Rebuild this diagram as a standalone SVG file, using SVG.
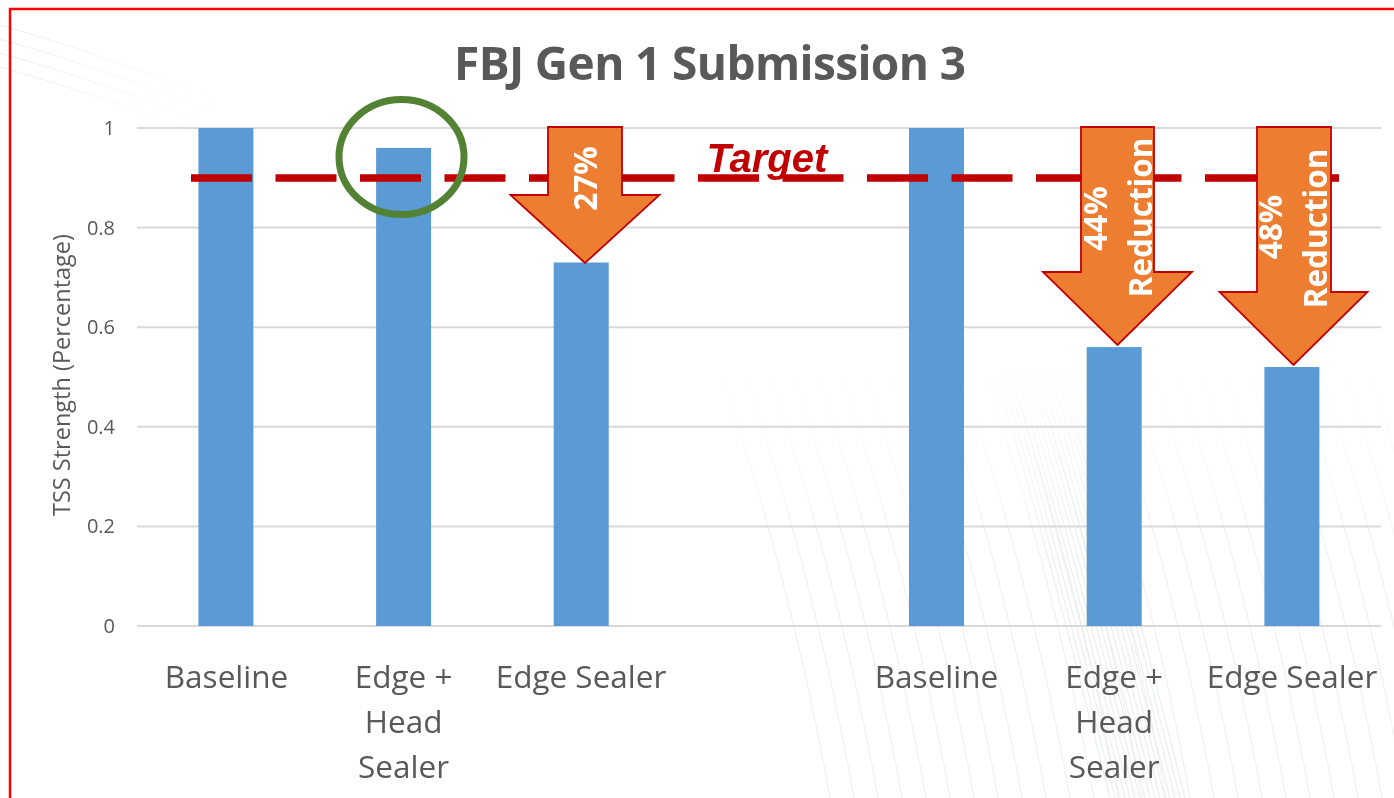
<svg xmlns="http://www.w3.org/2000/svg" xmlns:xlink="http://www.w3.org/1999/xlink" width="1394" height="798" viewBox="0 0 1394 798">
  <defs>
    <style>
      .grid { stroke: #D9D9D9; stroke-width: 2; fill: none; }
      .tick { font-family: "Open Sans", "Noto Sans", sans-serif; font-size: 20px; fill: #595959; text-anchor: end; }
      .cat { font-family: "Open Sans", "Noto Sans", sans-serif; font-size: 31.5px; fill: #595959; text-anchor: middle; }
      .bar { fill: #5B9BD5; }
      .arrow { fill: #ED7D31; stroke: #C00000; stroke-width: 1.8; stroke-linejoin: miter; }
      .alabel { font-family: "Open Sans", "Noto Sans", sans-serif; font-weight: bold; font-size: 31.5px; fill: #FFFFFF; text-anchor: middle; }
      .wave { fill: none; stroke: #D5DED5; stroke-width: 0.8; }
      .wave2 { fill: none; stroke: #C8D9C8; stroke-width: 0.8; }
    </style>
    <linearGradient id="fadeIn" x1="0" y1="0" x2="0" y2="1">
      <stop offset="0" stop-color="#000000"/>
      <stop offset="0.25" stop-color="#000000"/>
      <stop offset="0.6" stop-color="#FFFFFF"/>
      <stop offset="1" stop-color="#FFFFFF"/>
    </linearGradient>
    <linearGradient id="fadeTL" x1="0" y1="0" x2="1" y2="0">
      <stop offset="0" stop-color="#FFFFFF"/>
      <stop offset="1" stop-color="#000000"/>
    </linearGradient>
    <mask id="waveMask" maskUnits="userSpaceOnUse" x="600" y="200" width="800" height="600">
      <rect x="600" y="200" width="800" height="600" fill="url(#fadeIn)"/>
    </mask>
    <mask id="cornerMask" maskUnits="userSpaceOnUse" x="0" y="0" width="240" height="140">
      <rect x="0" y="0" width="240" height="140" fill="url(#fadeTL)"/>
    </mask>
    <path id="wa" d="M 680 260 C 750 440 800 630 830 798"/>
    <path id="wb" d="M 960 260 C 1020 440 1070 640 1110 798"/>
    <path id="wc" d="M -20 20 C 60 40 140 70 220 100"/>
  </defs>

  <rect width="1394" height="798" fill="#FFFFFF"/>

  <!-- faint background line work -->
  <g id="background" opacity="0.6">
    <g class="wave" mask="url(#waveMask)">
      <use xlink:href="#wa"/>
      <use xlink:href="#wa" transform="translate(24,0)"/>
      <use xlink:href="#wa" transform="translate(48,0)"/>
      <use xlink:href="#wa" transform="translate(72,0)"/>
      <use xlink:href="#wa" transform="translate(96,0)"/>
      <use xlink:href="#wa" transform="translate(120,0)"/>
      <use xlink:href="#wa" transform="translate(144,0)"/>
      <use xlink:href="#wa" transform="translate(168,0)"/>
      <use xlink:href="#wa" transform="translate(192,0)"/>
      <use xlink:href="#wa" transform="translate(216,0)"/>
      <use xlink:href="#wa" transform="translate(240,0)"/>
      <use xlink:href="#wa" transform="translate(264,0)"/>
      <use xlink:href="#wa" transform="translate(288,0)"/>
      <use xlink:href="#wa" transform="translate(312,0)"/>
      <use xlink:href="#wa" transform="translate(336,0)"/>
      <use xlink:href="#wa" transform="translate(360,0)"/>
      <use xlink:href="#wa" transform="translate(384,0)"/>
      <use xlink:href="#wa" transform="translate(408,0)"/>
      <use xlink:href="#wa" transform="translate(432,0)"/>
      <use xlink:href="#wa" transform="translate(456,0)"/>
      <use xlink:href="#wa" transform="translate(480,0)"/>
      <use xlink:href="#wa" transform="translate(504,0)"/>
      <use xlink:href="#wa" transform="translate(528,0)"/>
      <use xlink:href="#wa" transform="translate(552,0)"/>
      <use xlink:href="#wa" transform="translate(576,0)"/>
      <use xlink:href="#wa" transform="translate(600,0)"/>
      <use xlink:href="#wa" transform="translate(624,0)"/>
      <use xlink:href="#wa" transform="translate(648,0)"/>
    </g>
    <g class="wave2" mask="url(#waveMask)">
      <use xlink:href="#wb"/>
      <use xlink:href="#wb" transform="translate(5,0)"/>
      <use xlink:href="#wb" transform="translate(10,0)"/>
      <use xlink:href="#wb" transform="translate(15,0)"/>
      <use xlink:href="#wb" transform="translate(20,0)"/>
      <use xlink:href="#wb" transform="translate(25,0)"/>
      <use xlink:href="#wb" transform="translate(30,0)"/>
      <use xlink:href="#wb" transform="translate(35,0)"/>
      <use xlink:href="#wb" transform="translate(40,0)"/>
      <use xlink:href="#wb" transform="translate(45,0)"/>
      <use xlink:href="#wb" transform="translate(50,0)"/>
      <use xlink:href="#wb" transform="translate(55,0)"/>
      <use xlink:href="#wb" transform="translate(60,0)"/>
      <use xlink:href="#wb" transform="translate(65,0)"/>
      <use xlink:href="#wb" transform="translate(70,0)"/>
      <use xlink:href="#wb" transform="translate(75,0)"/>
    </g>
    <g class="wave" mask="url(#cornerMask)">
      <use xlink:href="#wc"/>
      <use xlink:href="#wc" transform="translate(0,14)"/>
      <use xlink:href="#wc" transform="translate(0,28)"/>
      <use xlink:href="#wc" transform="translate(0,42)"/>
    </g>
  </g>

  <!-- frame -->
  <rect x="10" y="9" width="1400" height="800" fill="none" stroke="#FF0000" stroke-width="2.5"/>

  <!-- title -->
  <text x="710" y="80" font-family="'Open Sans', 'Noto Sans', sans-serif" font-weight="bold" font-size="46" fill="#595959" text-anchor="middle" textLength="512">FBJ Gen 1 Submission 3</text>

  <!-- gridlines -->
  <g id="gridlines">
    <line class="grid" x1="137" y1="128" x2="1381" y2="128"/>
    <line class="grid" x1="137" y1="227.6" x2="1381" y2="227.6"/>
    <line class="grid" x1="137" y1="327.2" x2="1381" y2="327.2"/>
    <line class="grid" x1="137" y1="426.8" x2="1381" y2="426.8"/>
    <line class="grid" x1="137" y1="526.4" x2="1381" y2="526.4"/>
    <line class="grid" x1="137" y1="626" x2="1381" y2="626"/>
  </g>

  <!-- value axis -->
  <g id="y-axis">
    <text class="tick" x="115" y="135">1</text>
    <text class="tick" x="115" y="234.6">0.8</text>
    <text class="tick" x="115" y="334.2">0.6</text>
    <text class="tick" x="115" y="433.8">0.4</text>
    <text class="tick" x="115" y="533.4">0.2</text>
    <text class="tick" x="115" y="633">0</text>
    <text transform="translate(70,375) rotate(-90)" font-family="'Open Sans', 'Noto Sans', sans-serif" font-size="23.5" fill="#595959" text-anchor="middle">TSS Strength (Percentage)</text>
  </g>

  <!-- bars -->
  <g id="bars">
    <rect id="bar-baseline-1" class="bar" x="198.4" y="128" width="55" height="498"/>
    <rect id="bar-edge-head-1" class="bar" x="376.1" y="147.9" width="55" height="478.1"/>
    <rect id="bar-edge-sealer-1" class="bar" x="553.7" y="262.5" width="55" height="363.5"/>
    <rect id="bar-baseline-2" class="bar" x="909" y="128" width="55" height="498"/>
    <rect id="bar-edge-head-2" class="bar" x="1086.7" y="347.1" width="55" height="278.9"/>
    <rect id="bar-edge-sealer-2" class="bar" x="1264.4" y="367" width="55" height="259"/>
  </g>

  <!-- category labels -->
  <g id="categories">
    <text class="cat" x="226.5" y="688">Baseline</text>
    <text class="cat" x="403.6" y="688">Edge +</text>
    <text class="cat" x="403.6" y="733">Head</text>
    <text class="cat" x="403.6" y="778">Sealer</text>
    <text class="cat" x="581" y="688">Edge Sealer</text>
    <text class="cat" x="936.5" y="688">Baseline</text>
    <text class="cat" x="1114.2" y="688">Edge +</text>
    <text class="cat" x="1114.2" y="733">Head</text>
    <text class="cat" x="1114.2" y="778">Sealer</text>
    <text class="cat" x="1292" y="688">Edge Sealer</text>
  </g>

  <!-- target line -->
  <g id="target">
    <line x1="191" y1="178" x2="1339" y2="178" stroke="#C00000" stroke-width="7.5" stroke-dasharray="61 23.5"/>
    <text x="767" y="172" font-family="'Liberation Sans', Arial, sans-serif" font-weight="bold" font-style="italic" font-size="40" fill="#C00000" text-anchor="middle">Target</text>
  </g>

  <!-- highlight ring -->
  <ellipse id="highlight" cx="401.5" cy="157" rx="62.5" ry="57.5" fill="none" stroke="#548235" stroke-width="7"/>

  <!-- reduction arrows -->
  <g id="arrow-27">
    <polygon class="arrow" points="548,127 622,127 622,195 659.5,195 585,263 510.5,195 548,195"/>
    <text class="alabel" transform="translate(597,178.5) rotate(-90)">27%</text>
  </g>
  <g id="arrow-44">
    <polygon class="arrow" points="1081,127 1154,127 1154,272 1192,272 1117.5,345 1043,272 1081,272"/>
    <text class="alabel" transform="translate(1107,218.5) rotate(-90)">44%</text>
    <text class="alabel" transform="translate(1152,217.5) rotate(-90)">Reduction</text>
  </g>
  <g id="arrow-48">
    <polygon class="arrow" points="1257,127 1331,127 1331,292 1367.5,292 1293.5,365 1219.5,292 1257,292"/>
    <text class="alabel" transform="translate(1282,227) rotate(-90)">48%</text>
    <text class="alabel" transform="translate(1327,228.5) rotate(-90)">Reduction</text>
  </g>
</svg>
